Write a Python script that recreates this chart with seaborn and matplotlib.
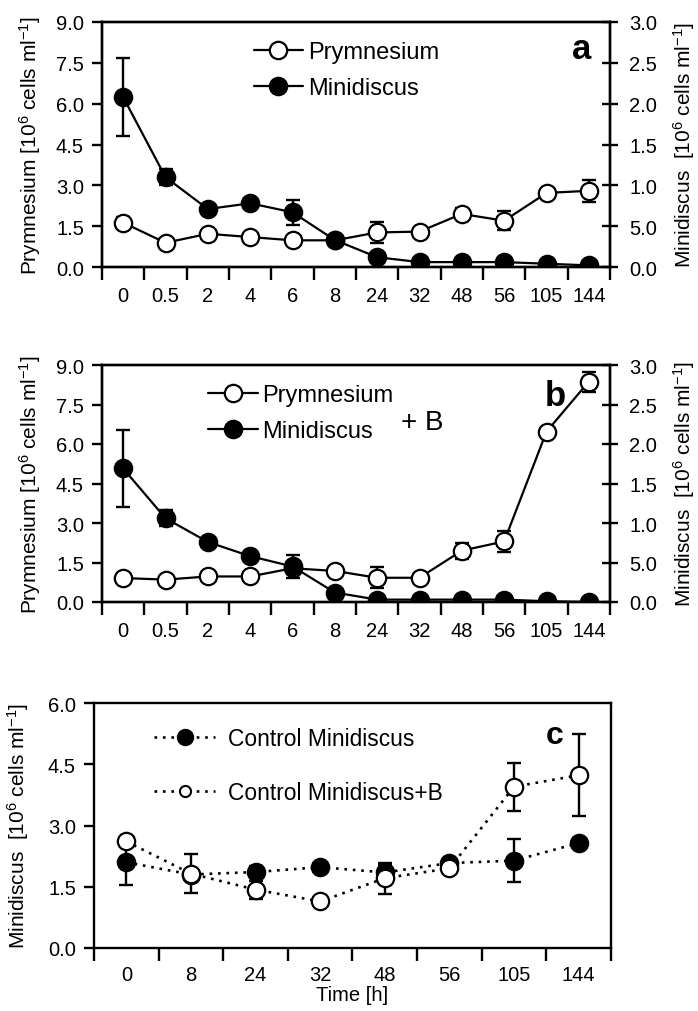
import numpy as np
import matplotlib
matplotlib.use("Agg")
import matplotlib.pyplot as plt
import seaborn as sns
from matplotlib.lines import Line2D

# ---------------- data ----------------
times_ab = ["0", "0.5", "2", "4", "6", "8", "24", "32", "48", "56", "105", "144"]

prym_a = [1.63, 0.89, 1.22, 1.10, 0.98, 0.98, 1.27, 1.30, 1.95, 1.70, 2.72, 2.80]
prym_a_err = [0.20, 0.0, 0.0, 0.0, 0.0, 0.0, 0.40, 0.0, 0.20, 0.35, 0.0, 0.40]
mini_a = [2.08, 1.10, 0.71, 0.78, 0.67, 0.33, 0.12, 0.06, 0.06, 0.06, 0.04, 0.02]
mini_a_err = [0.48, 0.10, 0.0, 0.0, 0.15, 0.04, 0.0, 0.0, 0.0, 0.0, 0.0, 0.0]

prym_b = [0.91, 0.85, 0.97, 0.97, 1.28, 1.18, 0.92, 0.92, 1.95, 2.30, 6.47, 8.37]
prym_b_err = [0.10, 0.0, 0.0, 0.0, 0.0, 0.0, 0.40, 0.0, 0.30, 0.40, 0.0, 0.38]
mini_b = [1.69, 1.06, 0.76, 0.58, 0.45, 0.12, 0.03, 0.03, 0.03, 0.03, 0.01, 0.0]
mini_b_err = [0.49, 0.10, 0.0, 0.0, 0.14, 0.05, 0.03, 0.0, 0.0, 0.0, 0.0, 0.0]

times_c = ["0", "8", "24", "32", "48", "56", "105", "144"]
ctrl_mini = [2.10, 1.80, 1.86, 1.98, 1.85, 2.08, 2.14, 2.57]
ctrl_mini_err = [0.55, 0.0, 0.15, 0.08, 0.18, 0.0, 0.53, 0.12]
ctrl_mini_b = [2.61, 1.82, 1.43, 1.14, 1.71, 1.95, 3.95, 4.23]
ctrl_mini_b_err = [0.08, 0.47, 0.22, 0.0, 0.38, 0.05, 0.59, 1.00]

left_ticks_ab = [0.0, 1.5, 3.0, 4.5, 6.0, 7.5, 9.0]
right_ticks_ab = [0.0, 0.5, 1.0, 1.5, 2.0, 2.5, 3.0]
right_ticklabels_ab = ["0.0", "5.0", "1.0", "1.5", "2.0", "2.5", "3.0"]
ticks_c = [0.0, 1.5, 3.0, 4.5, 6.0]

# ---------------- style ----------------
sns.set_style("ticks", rc={"axes.edgecolor": "black", "text.color": "black",
                           "axes.labelcolor": "black", "xtick.color": "black",
                           "ytick.color": "black"})
plt.rcParams["font.family"] = ["Liberation Sans", "DejaVu Sans"]
plt.rcParams["mathtext.fontset"] = "custom"
plt.rcParams["mathtext.rm"] = "Liberation Sans"
plt.rcParams["mathtext.it"] = "Liberation Sans:italic"
plt.rcParams["axes.linewidth"] = 1.7

TFS = 14.5   # tick labels
LFS = 15     # axis labels
GFS = 17     # legend a/b
DOT = (0, (1, 2.2))

fig = plt.figure(figsize=(6.98, 10.12), dpi=100)
W, H = 698.0, 1012.0


def add_axes_px(left, top, right, bottom):
    return fig.add_axes([left / W, 1 - bottom / H, (right - left) / W, (bottom - top) / H])


def draw_series(ax, x, y, err, filled, ls="-", lw=1.6, ms=12.5):
    ax.errorbar(x, y, yerr=err, fmt="none", ecolor="black", elinewidth=1.7,
                capsize=5, capthick=1.7, zorder=2)
    sns.lineplot(x=x, y=y, ax=ax, color="black", linewidth=lw, linestyle=ls,
                 marker="o", markersize=ms,
                 markerfacecolor="black" if filled else "white",
                 markeredgecolor="black", markeredgewidth=1.6,
                 legend=False, zorder=3)


def style_cat_x(ax, labels, fontsize, pad):
    n = len(labels)
    ax.set_xlim(-0.5, n - 0.5)
    ax.set_xticks(np.arange(-0.5, n, 1.0))
    ax.set_xticklabels([""] * (n + 1))
    ax.set_xticks(np.arange(n), minor=True)
    ax.set_xticklabels(labels, minor=True, fontsize=fontsize)
    ax.tick_params(axis="x", which="major", direction="out", length=9, width=1.7)
    ax.tick_params(axis="x", which="minor", length=0, pad=pad)
    ax.set_xlabel("")


def panel_ab(top, bottom, prym, prym_err, mini, mini_err, legend_anchor):
    ax = add_axes_px(102, top, 610, bottom)
    ax2 = ax.twinx()
    x = np.arange(len(times_ab))
    draw_series(ax, x, prym, prym_err, filled=False)
    draw_series(ax2, x, mini, mini_err, filled=True)
    ax.set_ylim(0, 9)
    ax2.set_ylim(0, 3)
    ax.set_yticks(left_ticks_ab)
    ax.set_yticklabels([f"{v:.1f}" for v in left_ticks_ab], fontsize=TFS)
    ax2.set_yticks(right_ticks_ab)
    ax2.set_yticklabels(right_ticklabels_ab, fontsize=TFS)
    ax.tick_params(axis="y", direction="out", length=7, width=1.7, pad=6)
    ax2.tick_params(axis="y", direction="inout", length=12, width=1.7, pad=8)
    style_cat_x(ax, times_ab, TFS, 14)
    ax.set_ylabel(r"Prymnesium [10$^{6}$ cells ml$^{-1}$]", fontsize=LFS, labelpad=9)
    ax2.set_ylabel(r"Minidiscus  [10$^{6}$ cells ml$^{-1}$]", fontsize=LFS, labelpad=10)
    for a in (ax, ax2):
        for s in a.spines.values():
            s.set_visible(True)
            s.set_linewidth(1.7)
    ax2.set_zorder(ax.get_zorder() + 1)
    handles = [
        Line2D([0], [0], color="black", lw=1.6, marker="o", markersize=12.5,
               markerfacecolor="white", markeredgecolor="black", markeredgewidth=1.6),
        Line2D([0], [0], color="black", lw=1.6, marker="o", markersize=12.5,
               markerfacecolor="black", markeredgecolor="black", markeredgewidth=1.6),
    ]
    ax2.legend(handles, ["Prymnesium", "Minidiscus"], loc="upper left",
               bbox_to_anchor=legend_anchor, frameon=False, fontsize=GFS,
               handlelength=2.1, handletextpad=0.2, labelspacing=0.6,
               borderaxespad=0)
    return ax, ax2


ax_a, ax_a2 = panel_ab(23, 268, prym_a, prym_a_err, mini_a, mini_a_err, (0.28, 0.96))
ax_a2.text(0.945, 0.89, "a", transform=ax_a2.transAxes, fontsize=25,
           fontweight="bold", ha="center", va="center")

ax_b, ax_b2 = panel_ab(366, 603, prym_b, prym_b_err, mini_b, mini_b_err, (0.19, 0.96))
ax_b2.text(0.893, 0.87, "b", transform=ax_b2.transAxes, fontsize=25,
           fontweight="bold", ha="center", va="center")
ax_b2.text(0.63, 0.76, "+ B", transform=ax_b2.transAxes, fontsize=20,
           ha="center", va="center")

# ---------------- panel c ----------------
ax_c = add_axes_px(94, 704, 611, 949)
xc = np.arange(len(times_c))
draw_series(ax_c, xc, ctrl_mini, ctrl_mini_err, filled=True, ls=DOT, lw=1.9)
draw_series(ax_c, xc, ctrl_mini_b, ctrl_mini_b_err, filled=False, ls=DOT, lw=1.9)
ax_c.set_ylim(0, 6)
ax_c.set_yticks(ticks_c)
ax_c.set_yticklabels([f"{v:.1f}" for v in ticks_c], fontsize=TFS)
ax_c.tick_params(axis="y", direction="out", length=7, width=1.7, pad=6)
style_cat_x(ax_c, times_c, TFS, 12)
ax_c.set_ylabel(r"Minidiscus  [10$^{6}$ cells ml$^{-1}$]", fontsize=LFS, labelpad=12)
ax_c.set_xlabel("Time [h]", fontsize=TFS, labelpad=1)
for s in ax_c.spines.values():
    s.set_visible(True)
    s.set_linewidth(1.7)
handles_c = [
    Line2D([0], [0], color="black", lw=1.9, ls=DOT, marker="o", markersize=11,
           markerfacecolor="black", markeredgecolor="black", markeredgewidth=1.5),
    Line2D([0], [0], color="black", lw=1.9, ls=DOT, marker="o", markersize=8,
           markerfacecolor="white", markeredgecolor="black", markeredgewidth=1.5),
]
ax_c.legend(handles_c, ["Control Minidiscus", "Control Minidiscus+B"],
            loc="upper left", bbox_to_anchor=(0.098, 0.94), frameon=False,
            handlelength=2.7, handletextpad=0.55, labelspacing=1.35,
            borderaxespad=0, fontsize=16.4)
ax_c.text(0.89, 0.87, "c", transform=ax_c.transAxes, fontsize=23,
          fontweight="bold", ha="center", va="center")

fig.savefig("out.png", dpi=100)
